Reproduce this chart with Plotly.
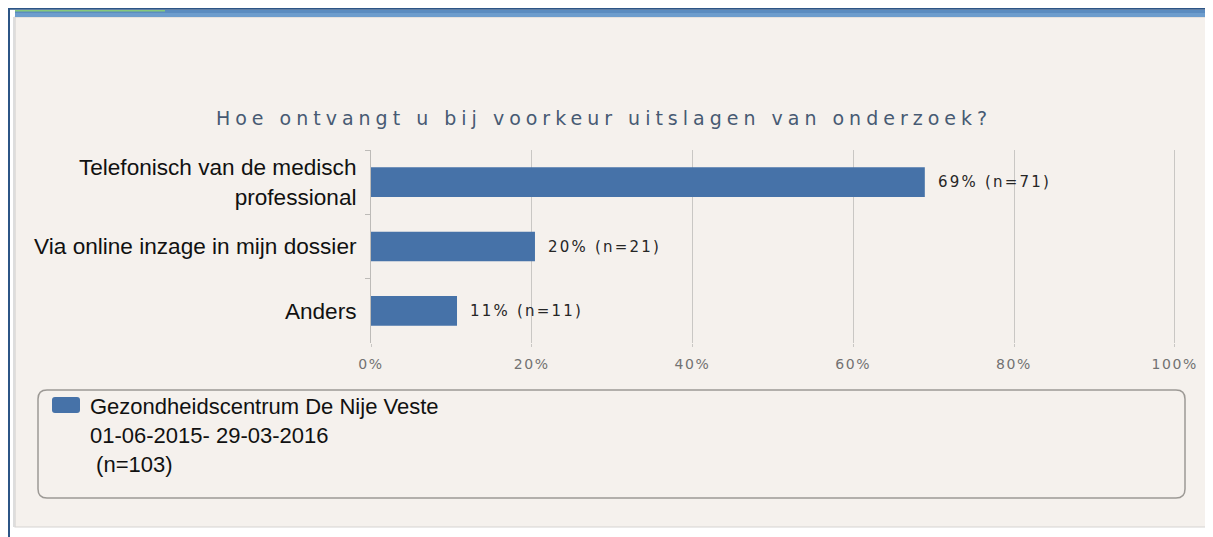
import plotly.graph_objects as go

# Reference picture size and the browser's 8px body offset
W, H = 1213, 537
OFF = 8
WF, HF = W - OFF, H - OFF

categories = ["Telefonisch van de medisch<br>professional",
              "Via online inzage in mijn dossier",
              "Anders"]
values = [68.9, 20.4, 10.7]
bar_labels = ["69% (n=71)", "20% (n=21)", "11% (n=11)"]
tick_vals = [0, 20, 40, 60, 80, 100]
tick_labels = ["0%", "20%", "40%", "60%", "80%", "100%"]
series_name = "Gezondheidscentrum De Nije Veste<br>01-06-2015- 29-03-2016<br> (n=103)"
title_text = "Hoe ontvangt u bij voorkeur uitslagen van onderzoek?"

BAR = "#4672A8"
BG = "#F5F1ED"


def px(x):
    return (x - OFF) / WF


def py(y):
    return 1 - (y - OFF) / HF


def spaced(t, sp):
    return f'<span style="letter-spacing:{sp}px">{t}</span>'


def rounded(x0, x1, y0, y1, r):
    return (f"M{px(x0+r)},{py(y0)} L{px(x1-r)},{py(y0)} "
            f"Q{px(x1)},{py(y0)} {px(x1)},{py(y0+r)} "
            f"L{px(x1)},{py(y1-r)} Q{px(x1)},{py(y1)} {px(x1-r)},{py(y1)} "
            f"L{px(x0+r)},{py(y1)} Q{px(x0)},{py(y1)} {px(x0)},{py(y1-r)} "
            f"L{px(x0)},{py(y0+r)} Q{px(x0)},{py(y0)} {px(x0+r)},{py(y0)} Z")


fig = go.Figure()
fig.add_trace(go.Bar(
    y=categories, x=values, orientation="h",
    marker=dict(color=BAR, line=dict(width=0)),
    width=0.46, name=series_name, showlegend=True,
    hoverinfo="skip",
))

for c, v, t in zip(categories, values, bar_labels):
    fig.add_annotation(x=v, y=c, xref="x", yref="y", text=spaced(t, 2.2),
                       showarrow=False, xanchor="left", xshift=11,
                       font=dict(family="DejaVu Sans", size=15, color="#262626"))

shapes = []
# panel
shapes.append(dict(type="rect", xref="paper", yref="paper",
                   x0=px(15), x1=px(1207), y0=py(527), y1=py(17),
                   fillcolor=BG, line=dict(color="#D6D4D1", width=1.2), layer="below"))
# light left strip
shapes.append(dict(type="rect", xref="paper", yref="paper",
                   x0=px(13), x1=px(15), y0=py(527), y1=py(17),
                   fillcolor="#DDDDDD", line=dict(width=0), layer="below"))
# blue band
shapes.append(dict(type="rect", xref="paper", yref="paper",
                   x0=px(15), x1=px(1208), y0=py(17), y1=py(10),
                   fillcolor="#6D9DCD", line=dict(width=0), layer="below"))
shapes.append(dict(type="rect", xref="paper", yref="paper",
                   x0=px(15), x1=px(1208), y0=py(13), y1=py(10),
                   fillcolor="#5B8CC0", line=dict(width=0), layer="below"))
# green accent
shapes.append(dict(type="rect", xref="paper", yref="paper",
                   x0=px(15), x1=px(165), y0=py(11.5), y1=py(10),
                   fillcolor="#86C97C", line=dict(width=0), layer="below"))
# dark outer lines
shapes.append(dict(type="rect", xref="paper", yref="paper",
                   x0=px(8), x1=px(1213), y0=py(9.8), y1=py(8),
                   fillcolor="#2C5586", line=dict(width=0), layer="below"))
shapes.append(dict(type="rect", xref="paper", yref="paper",
                   x0=px(8), x1=px(10), y0=py(537), y1=py(8),
                   fillcolor="#2C5586", line=dict(width=0), layer="below"))
# legend rounded box
shapes.append(dict(type="path", xref="paper", yref="paper",
                   path=rounded(38, 1185, 390, 498, 9),
                   line=dict(color="#9C9995", width=1.5), fillcolor=BG, layer="below"))
# enlarged legend swatch (sits under the legend's own symbol)
shapes.append(dict(type="path", xref="paper", yref="paper",
                   path=rounded(52, 80, 397, 413, 3),
                   line=dict(width=0), fillcolor=BAR, layer="above"))

fig.update_layout(
    width=WF, height=HF,
    margin=dict(l=0, r=0, t=0, b=0, autoexpand=False),
    paper_bgcolor="white",
    plot_bgcolor="rgba(0,0,0,0)",
    shapes=shapes,
    title=dict(text=spaced(title_text, 5.0), x=px(604), xanchor="center",
               y=py(118), yanchor="middle", automargin=False,
               font=dict(family="DejaVu Sans", size=19, color="#475A73")),
    xaxis=dict(domain=[px(371), px(1176)], range=[0, 100.15], automargin=False,
               tickvals=tick_vals, ticktext=[spaced(t, 1.6) for t in tick_labels],
               showgrid=True, gridcolor="#C9C7C4", gridwidth=1,
               zeroline=False, showline=False,
               ticks="outside", ticklen=3, tickcolor="#C9C7C4",
               ticklabelstandoff=5,
               tickfont=dict(family="DejaVu Sans", size=14, color="#727272"),
               fixedrange=True),
    yaxis=dict(domain=[py(343), py(150)], autorange="reversed", automargin=False,
               showline=True, linecolor="#BDBBB8", linewidth=1,
               ticks="outside", tickson="boundaries", ticklen=5, tickcolor="#BDBBB8",
               ticklabelstandoff=9,
               tickfont=dict(family="Liberation Sans", size=22.6, color="#111111"),
               showgrid=False, fixedrange=True),
    bargap=0.5,
    legend=dict(x=px(50), y=py(385), xanchor="left", yanchor="top",
                bgcolor="rgba(0,0,0,0)", valign="top",
                font=dict(family="Liberation Sans", size=22, color="#111111"),
                itemwidth=30, tracegroupgap=0),
    showlegend=True,
)

fig.write_html("out.html")
